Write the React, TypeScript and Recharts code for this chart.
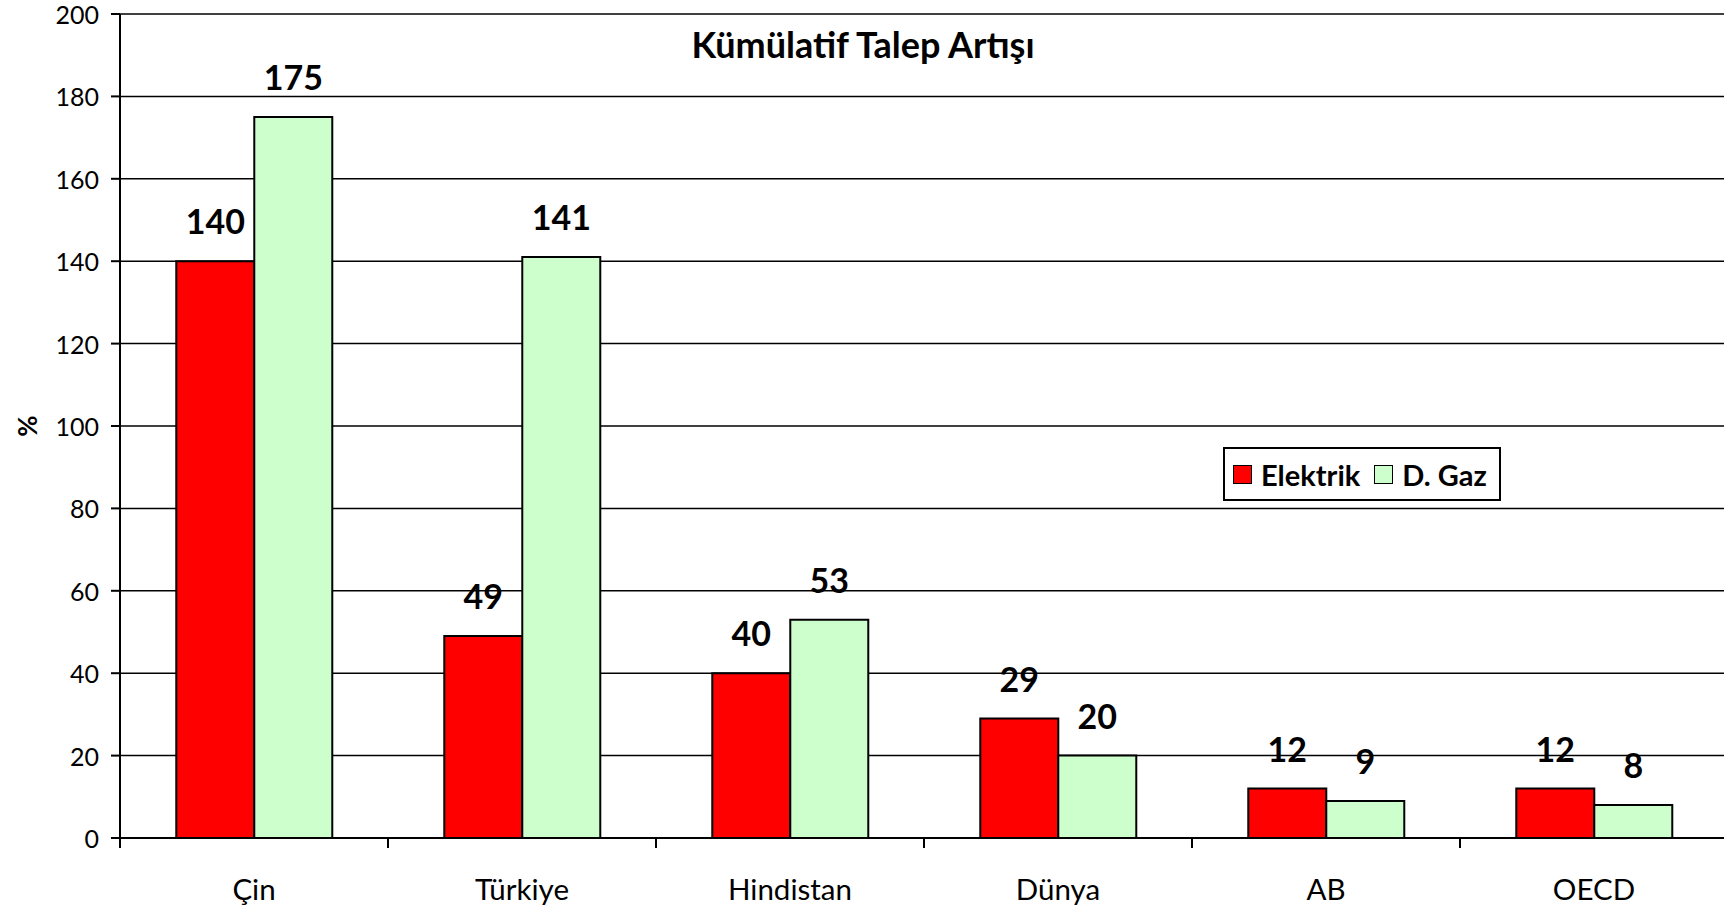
import React from 'react';
import { BarChart, Bar, XAxis, YAxis, CartesianGrid, Legend, LabelList } from 'recharts';

const categories = ['Çin', 'Türkiye', 'Hindistan', 'Dünya', 'AB', 'OECD'];
const elektrik = [140, 49, 40, 29, 12, 12];
const dgaz = [175, 141, 53, 20, 9, 8];
const yTicks = [0, 20, 40, 60, 80, 100, 120, 140, 160, 180, 200];
const seriesNames = ['Elektrik', 'D. Gaz'];
const chartTitle = 'Kümülatif Talep Artışı';
const yLabel = '%';

const data = categories.map((c, i) => ({ name: c, elektrik: elektrik[i], dgaz: dgaz[i] }));

const FONT = 'Lato, "Open Sans", sans-serif';

const XTick = (props: any) => {
  const { x, y, payload } = props;
  const off = payload && typeof payload.offset === 'number' ? payload.offset : 0;
  return (
    <g>
      <line x1={x - off} x2={x - off} y1={y} y2={y + 10} stroke="#000" strokeWidth={2} />
      <text x={x} y={y + 62} textAnchor="middle" fontFamily={FONT} fontSize={29.5} fill="#000">
        {payload.value}
      </text>
    </g>
  );
};

const YTick = (props: any) => {
  const { x, y, payload } = props;
  return (
    <text x={x} y={y + 10} textAnchor="end" fontFamily={FONT} fontSize={25} fill="#000">
      {payload.value}
    </text>
  );
};

const LegendBox = (props: any) => {
  const payload = [...(props.payload || [])].sort(
    (a: any, b: any) => seriesNames.indexOf(a.value) - seriesNames.indexOf(b.value)
  );
  return (
    <div
      style={{
        boxSizing: 'border-box',
        width: '100%',
        height: '100%',
        border: '2px solid #000',
        background: '#fff',
        display: 'flex',
        alignItems: 'center',
        paddingLeft: 8,
        fontFamily: FONT,
        fontWeight: 700,
        fontSize: 29,
        color: '#000',
        whiteSpace: 'nowrap',
      }}
    >
      {payload.map((p: any, i: number) => (
        <div key={i} style={{ display: 'flex', alignItems: 'center', marginRight: 14 }}>
          <span
            style={{
              display: 'inline-block',
              boxSizing: 'border-box',
              width: 19,
              height: 19,
              background: p.color,
              border: '1.5px solid #000',
              marginRight: 9,
            }}
          />
          <span>{p.value}</span>
        </div>
      ))}
    </div>
  );
};

export default function App() {
  return (
    <div
      style={{
        position: 'fixed',
        left: 0,
        top: 0,
        width: 1724,
        height: 910,
        overflow: 'hidden',
        background: '#fff',
      }}
    >
      <div
        style={{
          position: 'absolute',
          left: 0,
          top: 26,
          width: 1726,
          textAlign: 'center',
          fontFamily: FONT,
          fontWeight: 700,
          fontSize: 36,
          lineHeight: '36px',
          color: '#000',
          zIndex: 2,
          pointerEvents: 'none',
        }}
      >
        {chartTitle}
      </div>
      <BarChart
        width={1732}
        height={910}
        data={data}
        margin={{ top: 14, right: 4, bottom: 0, left: 0 }}
        barCategoryGap="21%"
        barGap={0}
      >
        <CartesianGrid vertical={false} stroke="#000" strokeWidth={1.5} />
        <XAxis
          dataKey="name"
          height={72}
          tickLine={false}
          tickSize={0}
          tickMargin={0}
          axisLine={{ stroke: '#000', strokeWidth: 2 }}
          tick={<XTick />}
          interval={0}
        />
        <YAxis
          width={120}
          domain={[0, 200]}
          ticks={yTicks}
          interval={0}
          tickSize={9}
          tickMargin={12}
          axisLine={{ stroke: '#000', strokeWidth: 2 }}
          tickLine={{ stroke: '#000', strokeWidth: 2 }}
          tick={<YTick />}
          label={{
            value: yLabel,
            content: (p: any) => {
              const vb = p.viewBox || { y: 14, height: 824 };
              const cx = 27;
              const cy = vb.y + vb.height / 2;
              return (
                <text
                  x={cx}
                  y={cy}
                  transform={`rotate(-90 ${cx} ${cy})`}
                  textAnchor="middle"
                  dominantBaseline="central"
                  fontFamily={FONT}
                  fontWeight={700}
                  fontSize={26}
                  fill="#000"
                >
                  {yLabel}
                </text>
              );
            },
          }}
        />
        <Legend
          layout="horizontal"
          verticalAlign="middle"
          align="center"
          content={<LegendBox />}
          wrapperStyle={{ position: 'absolute', left: 1223, top: 447, width: 278, height: 54 }}
        />
        <Bar dataKey="elektrik" name={seriesNames[0]} fill="#FF0000" stroke="#000" strokeWidth={2} isAnimationActive={false}>
          <LabelList dataKey="elektrik" position="top" offset={27} fill="#000" fontSize={34} fontWeight={700} fontFamily={FONT} />
        </Bar>
        <Bar dataKey="dgaz" name={seriesNames[1]} fill="#CCFFCC" stroke="#000" strokeWidth={2} isAnimationActive={false}>
          <LabelList dataKey="dgaz" position="top" offset={27} fill="#000" fontSize={34} fontWeight={700} fontFamily={FONT} />
        </Bar>
      </BarChart>
    </div>
  );
}
